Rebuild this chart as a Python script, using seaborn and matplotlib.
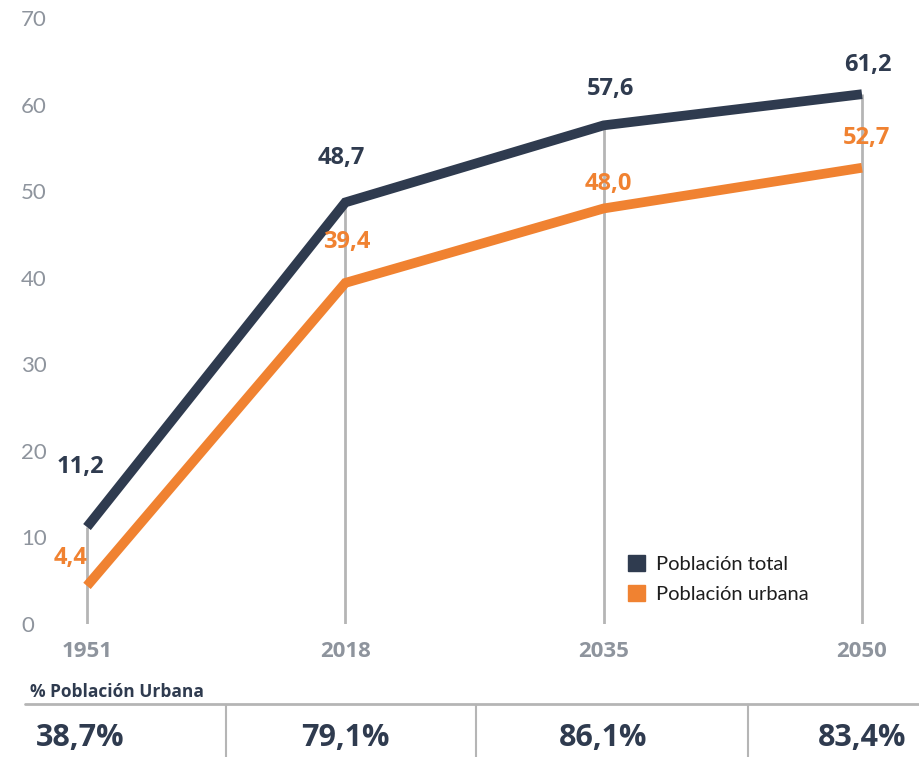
import matplotlib
matplotlib.use("Agg")
import matplotlib.pyplot as plt
import seaborn as sns
import pandas as pd
from matplotlib.patches import Patch

# Datos
anios = ["1951", "2018", "2035", "2050"]
poblacion_total = [11.2, 48.7, 57.6, 61.2]
poblacion_urbana = [4.4, 39.4, 48.0, 52.7]
pct_urbana = ["38,7%", "79,1%", "86,1%", "83,4%"]

navy = "#2F3B4F"
naranja = "#F08231"
gris = "#8E949D"

sns.set_theme(style="white")
plt.rcParams["font.family"] = ["Lato", "DejaVu Sans"]
negrita = ["Open Sans", "DejaVu Sans"]

df = pd.DataFrame({
    "anio": list(range(len(anios))) * 2,
    "valor": poblacion_total + poblacion_urbana,
    "serie": ["Población total"] * 4 + ["Población urbana"] * 4,
})

fig = plt.figure(figsize=(9.2, 7.57), dpi=100)
W, H = 920, 757
# eje: x 60..890 px, y 18..624 px
ax = fig.add_axes([60 / W, 1 - 624 / H, 830 / W, (624 - 18) / H])

# líneas verticales grises
ax.vlines(range(len(anios)), -0.5, poblacion_total, color="#B5B5B5", lw=2, zorder=1)

sns.lineplot(data=df, x="anio", y="valor", hue="serie",
             palette=[navy, naranja], lw=7, ax=ax, legend=False, zorder=3,
             solid_capstyle="butt", solid_joinstyle="miter")

ax.set_xlim(-(87 - 60) / 258.3, 3 + (890 - 862) / 258.3)
ax.set_ylim(0, 70)
ax.set_yticks(range(0, 71, 10))
ax.set_yticklabels([str(v) for v in range(0, 71, 10)], color=gris, fontsize=16)
ax.tick_params(axis="y", length=0, pad=28)
ax.set_xticks(range(len(anios)))
ax.set_xticklabels(anios, color=gris, fontsize=16, fontweight="bold", family=negrita)
ax.tick_params(axis="x", length=0, pad=12)
ax.set_xlabel("")
ax.set_ylabel("")
for s in ax.spines.values():
    s.set_visible(False)
for lbl in ax.get_yticklabels():
    lbl.set_horizontalalignment("left")

# etiquetas de datos
off_total = [(-7, 60), (-4, 44), (7, 36), (6, 29)]
off_urb = [(-16, 28), (1, 41), (5, 24), (5, 30)]
for i in range(len(anios)):
    ax.annotate(f"{poblacion_total[i]:.1f}".replace(".", ","), (i, poblacion_total[i]),
                xytext=off_total[i], textcoords="offset pixels", ha="center", va="center",
                color=navy, fontsize=17, fontweight="bold", family=negrita)
    ax.annotate(f"{poblacion_urbana[i]:.1f}".replace(".", ","), (i, poblacion_urbana[i]),
                xytext=off_urb[i], textcoords="offset pixels", ha="center", va="center",
                color=naranja, fontsize=17, fontweight="bold", family=negrita)

handles = [Patch(color=navy, label="Población total"),
           Patch(color=naranja, label="Población urbana")]
leg = ax.legend(handles=handles, loc="lower left", bbox_to_anchor=((628 - 60) / 830, 0.035),
                frameon=False, fontsize=14.5, handlelength=0.85, handleheight=0.85,
                handletextpad=0.55, labelspacing=0.6, borderpad=0, borderaxespad=0)
for t in leg.get_texts():
    t.set_color("#1E1E1E")

# tabla inferior
fig.text(30 / W, 1 - 692 / H, "% Población Urbana", fontsize=12.5, fontweight="bold",
         color=navy, va="center", ha="left", family=negrita)
fig.add_artist(plt.Line2D([25 / W, 1], [1 - 704 / H] * 2, color="#B5B5B5", lw=2))
for xp in [226, 476, 748]:
    fig.add_artist(plt.Line2D([xp / W] * 2, [1 - 705 / H, 0], color="#B5B5B5", lw=1.5))
for xp, t in zip([80, 345, 603, 862], pct_urbana):
    fig.text(xp / W, 1 - 738 / H, t, fontsize=22, fontweight="bold", color=navy,
             ha="center", va="center", family=negrita)

fig.savefig("out.png", dpi=100)
